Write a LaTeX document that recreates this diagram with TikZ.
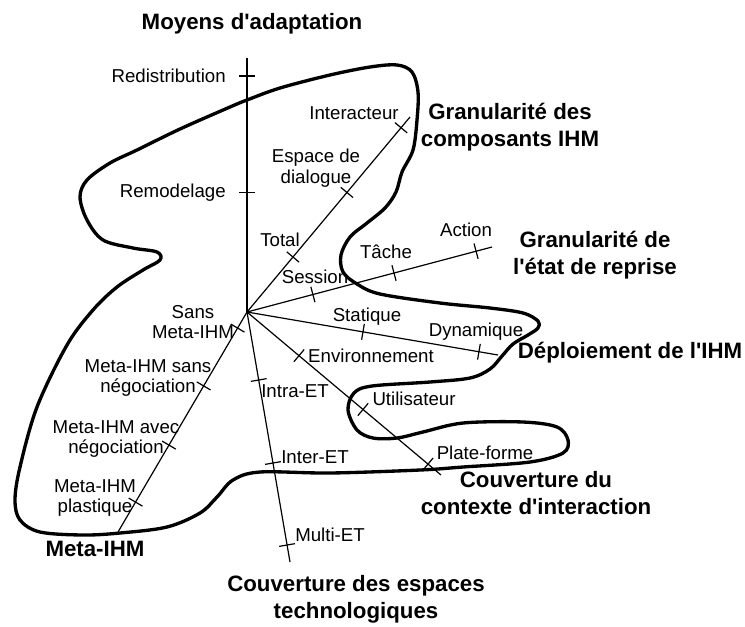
\documentclass[tikz,border=0pt]{standalone}
\usepackage{fontspec}
\setmainfont{Liberation Sans}
\usetikzlibrary{calc, positioning}

\tikzset{
  axe/.style={line width=0.9pt},
  graduation/.style={line width=0.9pt},
  zone/.style={line width=2.5pt, line join=round},
  valeur/.style={font=\fontsize{14}{15.5}\selectfont, align=center, inner sep=0pt},
  dimension/.style={font=\bfseries\fontsize{16.7}{20}\selectfont, align=center, inner sep=0pt}
}

% petit trait perpendiculaire a l'axe
\newcommand{\graduer}[2]{\draw[graduation] ($(#1)!6pt!90:(#2)$) -- ($(#1)!6pt!-90:(#2)$);}
\newcommand{\apos}{\textquotesingle}

\begin{document}
\begin{tikzpicture}[x=0.75pt, y=-0.75pt]
  \useasboundingbox (0,0) rectangle (745,626);

  % Origine et extremites des axes
  \coordinate (O) at (247,312);
  \coordinate (moyens) at (247,58);
  \coordinate (composants) at (410,117);
  \coordinate (reprise) at (492,247);
  \coordinate (deploiement) at (498,355);
  \coordinate (contexte) at (441,475);
  \coordinate (espaces) at (290,562);
  \coordinate (meta) at (118,532);

  \foreach \e in {moyens, composants, reprise, deploiement, contexte, espaces, meta}
    \draw[axe] (O) -- (\e);

  % Graduations
  \coordinate (redist) at ($(O)!0.929!(moyens)$);
  \coordinate (remod) at ($(O)!0.469!(moyens)$);
  \coordinate (total) at ($(O)!0.282!(composants)$);
  \coordinate (espdial) at ($(O)!0.613!(composants)$);
  \coordinate (interact) at ($(O)!0.945!(composants)$);
  \coordinate (session) at ($(O)!0.269!(reprise)$);
  \coordinate (tache) at ($(O)!0.600!(reprise)$);
  \coordinate (action) at ($(O)!0.935!(reprise)$);
  \coordinate (statique) at ($(O)!0.462!(deploiement)$);
  \coordinate (dynamique) at ($(O)!0.924!(deploiement)$);
  \coordinate (environ) at ($(O)!0.268!(contexte)$);
  \coordinate (utilis) at ($(O)!0.598!(contexte)$);
  \coordinate (plateforme) at ($(O)!0.933!(contexte)$);
  \coordinate (intra) at ($(O)!0.272!(espaces)$);
  \coordinate (inter) at ($(O)!0.604!(espaces)$);
  \coordinate (multi) at ($(O)!0.932!(espaces)$);
  \coordinate (sansmeta) at ($(O)!0.073!(meta)$);
  \coordinate (sansneg) at ($(O)!0.336!(meta)$);
  \coordinate (avecneg) at ($(O)!0.605!(meta)$);
  \coordinate (plastique) at ($(O)!0.864!(meta)$);

  \graduer{redist}{moyens}
  \graduer{remod}{moyens}
  \graduer{total}{composants}
  \graduer{espdial}{composants}
  \graduer{interact}{composants}
  \graduer{session}{reprise}
  \graduer{tache}{reprise}
  \graduer{action}{reprise}
  \graduer{statique}{deploiement}
  \graduer{dynamique}{deploiement}
  \graduer{environ}{contexte}
  \graduer{utilis}{contexte}
  \graduer{plateforme}{contexte}
  \graduer{intra}{espaces}
  \graduer{inter}{espaces}
  \graduer{multi}{espaces}
  \graduer{sansmeta}{meta}
  \graduer{sansneg}{meta}
  \graduer{avecneg}{meta}
  \graduer{plastique}{meta}

  % Noms des dimensions
  \node (tmoyens) [dimension] at (252,24) {Moyens d\apos adaptation};
  \node (tcomposants) [dimension] at (510,127) {Granularité des\\composants IHM};
  \node (treprise) [dimension] at (595,255) {Granularité de\\l\apos état de reprise};
  \node (tdeploiement) [dimension] at (630,353) {Déploiement de l\apos IHM};
  \node (tcontexte) [dimension] at (536,493) {Couverture du\\contexte d\apos interaction};
  \node (tespaces) [dimension] at (356,599) {Couverture des espaces\\technologiques};
  \node (tmeta) [dimension] at (95,549) {Meta-IHM};

  % Valeurs
  \node (lredist) [valeur, anchor=east] at (226,76) {Redistribution};
  \node (lremod) [valeur, anchor=east] at (226,193) {Remodelage};
  \node (linteract) [valeur] at (354,113) {Interacteur};
  \node (lespdial) [valeur] at (316,168) {Espace de\\dialogue};
  \node (ltotal) [valeur] at (280,240) {Total};
  \node (lsession) [valeur] at (315,277) {Session};
  \node (ltache) [valeur] at (386,252) {Tâche};
  \node (laction) [valeur] at (466,230) {Action};
  \node (lstatique) [valeur] at (367,317) {Statique};
  \node (ldynamique) [valeur] at (476,332) {Dynamique};
  \node (lenviron) [valeur] at (371,356) {Environnement};
  \node (lutilis) [valeur] at (414,399) {Utilisateur};
  \node (lplateforme) [valeur] at (485,453) {Plate-forme};
  \node (lintra) [valeur] at (295,391) {Intra-ET};
  \node (linter) [valeur] at (315,457) {Inter-ET};
  \node (lmulti) [valeur] at (330,535) {Multi-ET};
  \node (lsansmeta) [valeur] at (193,322) {Sans\\Meta-IHM};
  \node (lsansneg) [valeur] at (148,378) {Meta-IHM sans\\négociation};
  \node (lavecneg) [valeur] at (116,439) {Meta-IHM avec\\négociation};
  \node (lplastique) [valeur] at (95,498) {Meta-IHM\\plastique};

  % Contour de la zone
  \draw[zone] plot[smooth cycle, tension=0.55] coordinates {
    (247,100) (280,88) (330,75) (370,67) (397,65) (412,72) (418,92) (417,120)
    (413,150) (402,172) (396,192) (385,208) (367,223) (350,237) (341,255)
    (343,272) (357,284) (380,294) (440,303) (490,308) (523,313) (538,321)
    (538,328) (528,335) (513,344) (502,356) (490,369) (470,378) (430,382)
    (372,386) (354,393) (348,410) (357,430) (373,438) (397,438) (423,432)
    (463,423) (523,422) (557,427) (568,440) (563,453) (530,462) (463,467)
    (420,470) (330,473) (260,472) (233,480) (217,497) (200,513) (167,527)
    (120,533) (83,535) (40,532) (20,520) (15,500) (20,467) (37,407) (67,345)
    (93,310) (117,287) (143,270) (160,260) (157,252) (133,248) (103,240)
    (87,220) (80,197) (87,180) (110,163) (137,150) (180,129) (230,107)};
\end{tikzpicture}
\end{document}
